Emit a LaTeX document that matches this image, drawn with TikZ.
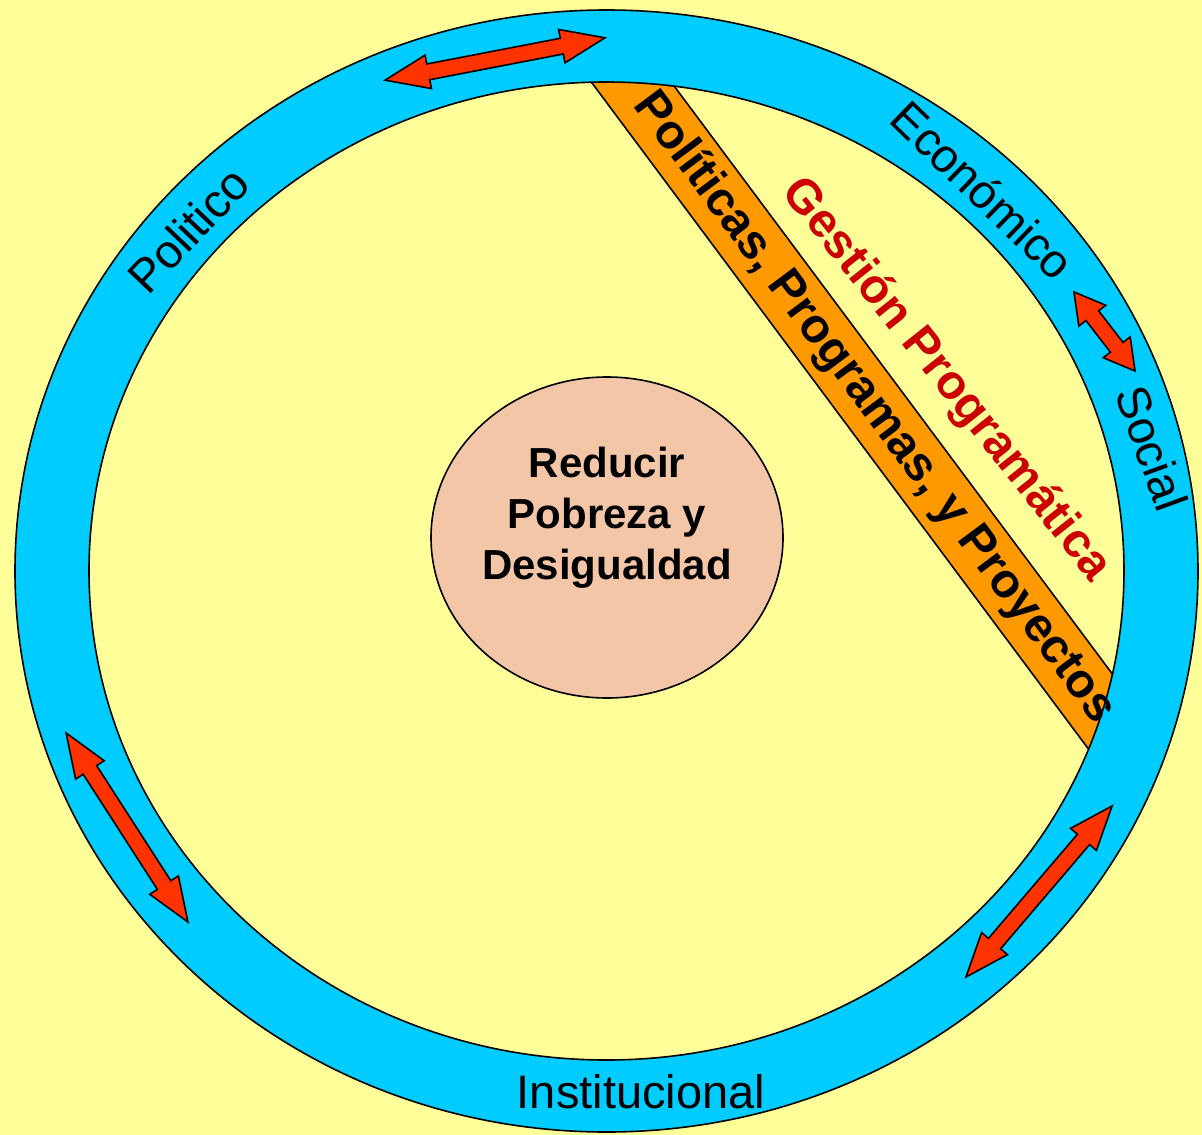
\documentclass[tikz,border=0pt]{standalone}
\usepackage{fontspec}
\setmainfont{Liberation Sans}
\usetikzlibrary{positioning,shapes.geometric}
\definecolor{bgyellow}{HTML}{FFFF99}
\definecolor{ringblue}{HTML}{00CCFF}
\definecolor{bandorange}{HTML}{FF9900}
\definecolor{goalpeach}{HTML}{F4C6A8}
\definecolor{arrowred}{HTML}{FF3300}
\definecolor{darkred}{HTML}{CC0000}

\begin{document}
\begin{tikzpicture}[x=1pt, y=-1pt,
    outline/.style={draw=black, line width=1.6pt},
    ringlabel/.style={font=\fontsize{47}{56}\selectfont, inner sep=0pt},
    bandlabel/.style={font=\fontsize{48}{56}\selectfont\bfseries, inner sep=0pt},
    goalcircle/.style={ellipse, outline, fill=goalpeach, minimum width=352pt, minimum height=321pt, inner sep=0pt},
    goallabel/.style={align=center, font=\fontsize{42}{51}\selectfont\bfseries, inner sep=0pt},
    pics/dblarrow/.style args={#1/#2}{code={
      \draw[outline, fill=arrowred, line join=miter]
        ({-#1/2},0) -- ({-#1/2+#2},-17) -- ({-#1/2+#2},-8) -- ({#1/2-#2},-8) -- ({#1/2-#2},-17) -- ({#1/2},0)
        -- ({#1/2-#2},17) -- ({#1/2-#2},8) -- ({-#1/2+#2},8) -- ({-#1/2+#2},17) -- cycle;
    }}]
    % Background
    \fill[bgyellow] (0,0) rectangle (1202,1135);
    \useasboundingbox (0,0) rectangle (1202,1135);

    % Orange band, cut by the ring
    \begin{scope}
      \clip (606.5,571) ellipse [x radius=517.5pt, y radius=489pt];
      \draw[outline, fill=bandorange, rotate around={-53.3:(617.7,63.9)}] (557.7,31.9) rectangle (1617.7,95.9);
    \end{scope}

    % Ring
    \draw[outline, fill=ringblue, even odd rule] (606.5,571) ellipse [x radius=591.5pt, y radius=561pt]
      (606.5,571) ellipse [x radius=517.5pt, y radius=489pt];

    % Goal in the middle
    \node (goal) [goalcircle] at (607,537.5) {};
    \node (goaltext) [goallabel] at ([yshift=20pt]goal.center) {Reducir\\Pobreza y\\Desigualdad};

    % Band texts
    \node (ppp) [bandlabel, rotate=-53.3] at (874,408) {Políticas, Programas, y Proyectos};
    \node (gestion) [bandlabel, text=darkred, rotate=-51.5] at (946,380) {Gestión Programática};

    % Ring texts
    \node (politico) [ringlabel, rotate=46.5] at (188,230) {Politico};
    \node (economico) [ringlabel, rotate=-44] at (983,190) {Económico};
    \node (social) [ringlabel, rotate=-70] at (1152,448) {Social};
    \node (institucional) [ringlabel, anchor=base] at (641,1108) {Institucional};

    % Arrows in the ring
    \pic[rotate=10.9] at (495,59) {dblarrow=224/44};
    \pic[rotate=-52.3] at (1104.5,331.5) {dblarrow=100/30};
    \pic[rotate=49.5] at (1039,891.5) {dblarrow=225/44};
    \pic[rotate=-57.2] at (127,827.5) {dblarrow=225/44};
\end{tikzpicture}
\end{document}
